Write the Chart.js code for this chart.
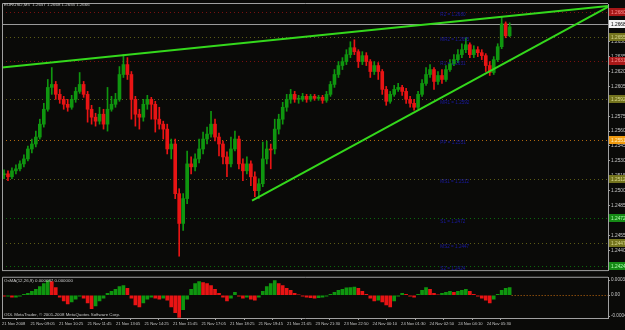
<!DOCTYPE html>
<html>
<head>
<meta charset="utf-8">
<script src="https://cdn.jsdelivr.net/npm/chart.js@4.4.1/dist/chart.umd.min.js"></script>
<style>
  html, body { margin: 0; padding: 0; background: #0a0a08; }
  #wrap { position: relative; width: 625px; height: 330px; overflow: hidden; background: #0a0a08; }
  #main { position: absolute; left: 0; top: 0; }
  #osma { position: absolute; left: 0; top: 274px; }
</style>
</head>
<body>
<div id="wrap">
  <canvas id="main" width="625" height="274"></canvas>
  <canvas id="osma" width="625" height="56"></canvas>
</div>
<script>
// EURUSD M5 candles, 21-24 Nov 2008
const opens = [
  1.2516,1.2517,1.2514,1.2520,1.2522,1.2527,1.2532,1.2542,1.2547,1.2554,
  1.2567,1.2582,1.2604,1.2607,1.2597,1.2592,1.2587,1.2584,1.2592,1.2600,
  1.2607,1.2597,1.2582,1.2574,1.2570,1.2577,1.2567,1.2582,1.2587,1.2592,
  1.2617,1.2627,1.2617,1.2592,1.2577,1.2574,1.2587,1.2592,1.2587,1.2572,
  1.2567,1.2562,1.2542,1.2547,1.2497,1.2467,1.2492,1.2527,1.2524,1.2532,
  1.2542,1.2552,1.2557,1.2567,1.2554,1.2547,1.2534,1.2527,1.2542,1.2552,
  1.2527,1.2520,1.2527,1.2514,1.2500,1.2507,1.2532,1.2542,1.2542,1.2562,
  1.2572,1.2584,1.2592,1.2597,1.2592,1.2592,1.2595,1.2592,1.2595,1.2593,
  1.2594,1.2591,1.2597,1.2607,1.2617,1.2626,1.2630,1.2637,1.2644,1.2640,
  1.2630,1.2636,1.2630,1.2620,1.2626,1.2620,1.2602,1.2590,1.2597,1.2602,
  1.2604,1.2600,1.2592,1.2588,1.2584,1.2597,1.2608,1.2617,1.2622,1.2610,
  1.2616,1.2612,1.2622,1.2628,1.2632,1.2637,1.2642,1.2647,1.2637,1.2642,
  1.2639,1.2636,1.2626,1.2619,1.2632,1.2645,1.2668,1.2656
];
const highs = [
  1.2521,1.2520,1.2523,1.2526,1.2530,1.2536,1.2545,1.2552,1.2560,1.2572,
  1.2588,1.2612,1.2624,1.2610,1.2602,1.2595,1.2592,1.2596,1.2604,1.2619,
  1.2610,1.2600,1.2586,1.2578,1.2584,1.2582,1.2604,1.2595,1.2598,1.2625,
  1.2637,1.2634,1.2620,1.2595,1.2582,1.2592,1.2596,1.2594,1.2590,1.2584,
  1.2570,1.2567,1.2552,1.2552,1.2502,1.2497,1.2540,1.2534,1.2537,1.2552,
  1.2559,1.2564,1.2580,1.2572,1.2558,1.2550,1.2539,1.2554,1.2560,1.2555,
  1.2532,1.2534,1.2530,1.2519,1.2512,1.2549,1.2550,1.2547,1.2572,1.2577,
  1.2589,1.2597,1.2602,1.2600,1.2596,1.2598,1.2597,1.2597,1.2597,1.2596,
  1.2596,1.2600,1.2610,1.2622,1.2630,1.2634,1.2642,1.2650,1.2652,1.2642,
  1.2640,1.2639,1.2632,1.2630,1.2629,1.2622,1.2605,1.2600,1.2606,1.2608,
  1.2606,1.2603,1.2595,1.2592,1.2600,1.2612,1.2624,1.2627,1.2624,1.2620,
  1.2622,1.2626,1.2632,1.2637,1.2642,1.2648,1.2654,1.2649,1.2646,1.2645,
  1.2642,1.2638,1.2630,1.2635,1.2648,1.2675,1.2670,1.2669
];
const lows = [
  1.2512,1.2510,1.2512,1.2517,1.2520,1.2524,1.2530,1.2538,1.2544,1.2552,
  1.2564,1.2580,1.2597,1.2592,1.2588,1.2582,1.2580,1.2582,1.2589,1.2598,
  1.2594,1.2569,1.2567,1.2565,1.2567,1.2562,1.2560,1.2580,1.2584,1.2590,
  1.2614,1.2612,1.2572,1.2565,1.2562,1.2570,1.2582,1.2572,1.2559,1.2562,
  1.2552,1.2537,1.2532,1.2492,1.2434,1.2460,1.2487,1.2517,1.2520,1.2528,
  1.2537,1.2547,1.2554,1.2550,1.2535,1.2527,1.2514,1.2524,1.2540,1.2522,
  1.2510,1.2517,1.2505,1.2494,1.2492,1.2504,1.2527,1.2522,1.2537,1.2557,
  1.2567,1.2580,1.2588,1.2589,1.2588,1.2590,1.2589,1.2590,1.2591,1.2591,
  1.2588,1.2589,1.2595,1.2604,1.2614,1.2622,1.2627,1.2634,1.2637,1.2624,
  1.2627,1.2626,1.2614,1.2617,1.2612,1.2597,1.2586,1.2588,1.2595,1.2600,
  1.2596,1.2588,1.2584,1.2581,1.2582,1.2595,1.2606,1.2614,1.2602,1.2607,
  1.2608,1.2610,1.2620,1.2626,1.2629,1.2634,1.2639,1.2634,1.2634,1.2635,
  1.2632,1.2620,1.2616,1.2617,1.2630,1.2643,1.2654,1.2655
];
const closes = [
  1.2517,1.2514,1.2520,1.2522,1.2527,1.2532,1.2542,1.2547,1.2554,1.2567,
  1.2582,1.2604,1.2607,1.2597,1.2592,1.2587,1.2584,1.2592,1.2600,1.2607,
  1.2597,1.2582,1.2574,1.2570,1.2577,1.2567,1.2582,1.2587,1.2592,1.2617,
  1.2627,1.2617,1.2592,1.2577,1.2574,1.2587,1.2592,1.2587,1.2572,1.2567,
  1.2562,1.2542,1.2547,1.2497,1.2467,1.2492,1.2527,1.2524,1.2532,1.2542,
  1.2552,1.2557,1.2567,1.2554,1.2547,1.2534,1.2527,1.2542,1.2552,1.2527,
  1.2520,1.2527,1.2514,1.2500,1.2507,1.2532,1.2542,1.2541,1.2562,1.2572,
  1.2584,1.2592,1.2597,1.2592,1.2593,1.2595,1.2592,1.2595,1.2593,1.2594,
  1.2591,1.2597,1.2607,1.2617,1.2626,1.2630,1.2637,1.2644,1.2640,1.2630,
  1.2636,1.2630,1.2620,1.2626,1.2620,1.2602,1.2590,1.2597,1.2602,1.2604,
  1.2600,1.2592,1.2588,1.2584,1.2597,1.2608,1.2617,1.2622,1.2610,1.2616,
  1.2612,1.2622,1.2628,1.2632,1.2637,1.2642,1.2647,1.2637,1.2642,1.2639,
  1.2636,1.2626,1.2619,1.2632,1.2645,1.2668,1.2656,1.2665
];

// OsMA(12,26,9) histogram, one value per candle
const osma = [
  -0.00002,-0.00002,-0.00004,-0.00004,-0.00002,0.00002,0.00004,0.00008,0.00012,0.00018,
  0.00024,0.00030,0.00028,0.00016,-0.00004,-0.00012,-0.00018,-0.00014,-0.00008,-0.00002,
  -0.00006,-0.00016,-0.00028,-0.00022,-0.00012,-0.00006,0.00004,0.00008,0.00012,0.00018,
  0.00020,0.00014,-0.00006,-0.00020,-0.00024,-0.00016,-0.00008,-0.00004,-0.00006,-0.00008,
  -0.00006,-0.00010,-0.00024,-0.00036,-0.00046,-0.00030,-0.00008,0.00012,0.00024,0.00028,
  0.00026,0.00024,0.00020,0.00012,0.00004,-0.00004,-0.00012,-0.00006,0.00006,-0.00002,
  -0.00006,-0.00004,-0.00008,-0.00010,-0.00004,0.00008,0.00018,0.00024,0.00030,0.00024,
  0.00020,0.00014,0.00010,0.00004,0.00001,-0.00002,-0.00004,-0.00005,-0.00006,-0.00005,
  -0.00004,-0.00002,0.00002,0.00006,0.00010,0.00012,0.00015,0.00016,0.00017,0.00014,
  0.00008,0.00002,-0.00006,-0.00012,-0.00010,-0.00014,-0.00020,-0.00024,-0.00012,-0.00002,
  0.00004,0.00002,-0.00002,-0.00004,0.00002,0.00010,0.00016,0.00012,0.00004,0.00001,
  0.00004,0.00006,0.00008,0.00006,0.00008,0.00010,0.00012,0.00008,0.00002,-0.00002,
  -0.00006,-0.00010,-0.00016,-0.00008,0.00002,0.00010,0.00014,0.00016
];

const priceTicks = [1.2425,1.2440,1.2455,1.2470,1.2485,1.2500,1.2515,1.2530,1.2545,
  1.2560,1.2575,1.2590,1.2605,1.2620,1.2635,1.2650,1.2665,1.2680];
const timeLabels = ['21 Nov 2008','21 Nov 09:05','21 Nov 10:25','21 Nov 11:45','21 Nov 13:05',
  '21 Nov 14:25','21 Nov 15:45','21 Nov 17:05','21 Nov 18:25','21 Nov 19:45','21 Nov 21:05',
  '23 Nov 21:30','23 Nov 22:50','24 Nov 00:10','24 Nov 01:30','24 Nov 02:50','24 Nov 04:10','24 Nov 05:30'];
const barsPerLabel = 7.16;

const pivotNames  = ['R2','MR2','R1','MR1','PP','MS1','S1','MS2','S2'];
const pivotValues = [1.2680,1.2655,1.2631,1.2592,1.2551,1.2512,1.2472,1.2447,1.2424];
const bidPrice = 1.2668;
const titleText = 'EURUSD,M5  1.2657 1.2668 1.2655 1.2666';

// trend lines: [bar index, price] pairs
const upperTrend = [{x: -0.5, y: 1.2624}, {x: 151.7, y: 1.2686}];
const lowerTrend = [{x: 62.3, y: 1.2490}, {x: 151.7, y: 1.2685}];

const osmaTicks = [0.00031, 0, -0.00043];
const osmaTickLabels = ['0.000351', '0.00', '-0.000458'];

const bg = '#0a0a08';
const fg = '#c8c8c8';
const frameColor = '#a0a0a0';
const upColor = '#0f960f';
const downColor = '#e81414';
const trendColor = '#34d81c';
const xMax = 151.7;
const fontFam = '"Liberation Sans", Arial, sans-serif';

function pivotKind(name) {
  if (name === 'PP') return 'pp';
  if (name.startsWith('M')) return 'mid';
  return name[0] === 'R' ? 'res' : 'sup';
}
const pivotStyle = {
  res: {line: '#7a1010', box: '#a81818', text: '#ff9090'},
  mid: {line: '#5c5c16', box: '#74741e', text: '#d8d890'},
  pp:  {line: '#b06810', box: '#f09a10', text: '#fff2c0'},
  sup: {line: '#0c6a0c', box: '#158a15', text: '#b0ffb0'}
};

const idx = closes.map((c, i) => i);
const candleColors = idx.map(i => closes[i] >= opens[i] ? upColor : downColor);
const osmaColors = idx.map(i => (i > 0 && osma[i] >= osma[i - 1]) ? upColor : downColor);

const mainDecor = {
  id: 'mainDecor',
  beforeDatasetsDraw(chart) {
    const {ctx, chartArea: a, scales: {y}} = chart;
    ctx.save();
    ctx.lineWidth = 1;
    ctx.setLineDash([1, 3]);
    pivotValues.forEach((v, k) => {
      const py = Math.round(y.getPixelForValue(v)) + 0.5;
      ctx.strokeStyle = pivotStyle[pivotKind(pivotNames[k])].line;
      ctx.beginPath(); ctx.moveTo(a.left, py); ctx.lineTo(a.right, py); ctx.stroke();
    });
    ctx.setLineDash([]);
    const by = Math.round(y.getPixelForValue(bidPrice)) + 0.5;
    ctx.strokeStyle = '#9a9a9a';
    ctx.beginPath(); ctx.moveTo(a.left, by); ctx.lineTo(a.right, by); ctx.stroke();
    ctx.restore();
  },
  afterDatasetsDraw(chart) {
    const {ctx, scales: {x, y}} = chart;
    ctx.save();
    ctx.font = '4.6px ' + fontFam;
    ctx.fillStyle = '#1a1aa0';
    ctx.textBaseline = 'middle';
    pivotValues.forEach((v, k) => {
      const py = y.getPixelForValue(v) + 3;
      ctx.fillText(pivotNames[k] + ' = ' + v.toFixed(4), x.getPixelForValue(109.6), py);
    });
    ctx.restore();
  },
  afterDraw(chart) {
    const {ctx, chartArea: a, scales: {y}} = chart;
    ctx.save();
    ctx.strokeStyle = frameColor;
    ctx.lineWidth = 1;
    ctx.beginPath();
    ctx.moveTo(a.left + 0.5, a.bottom + 0.5);
    ctx.lineTo(a.left + 0.5, a.top - 0.5);
    ctx.lineTo(a.right, a.top - 0.5);
    ctx.moveTo(a.left, a.bottom + 0.5);
    ctx.lineTo(a.right, a.bottom + 0.5);
    ctx.stroke();

    ctx.font = '4.4px ' + fontFam;
    ctx.fillStyle = fg;
    ctx.textBaseline = 'middle';
    ctx.fillText(titleText, 4, 5);

    // level boxes on the price scale
    const drawBox = (v, fill, txtColor, txt) => {
      const py = y.getPixelForValue(v);
      ctx.fillStyle = fill;
      ctx.fillRect(a.right + 1, Math.round(py) - 4, 16, 8);
      ctx.fillStyle = txtColor;
      ctx.fillText(txt, a.right + 3, py + 0.5);
    };
    ctx.font = '4.8px ' + fontFam;
    pivotValues.forEach((v, k) => {
      const st = pivotStyle[pivotKind(pivotNames[k])];
      drawBox(v, st.box, st.text, v.toFixed(4));
    });
    drawBox(bidPrice, '#f4f4f4', '#000000', bidPrice.toFixed(4));
    ctx.restore();
  }
};

new Chart(document.getElementById('main'), {
  type: 'bar',
  data: {
    datasets: [
      {type: 'line', label: 'upper', data: upperTrend, borderColor: trendColor, borderWidth: 2,
       pointRadius: 0, clip: false, order: 0},
      {type: 'line', label: 'lower', data: lowerTrend, borderColor: trendColor, borderWidth: 2,
       pointRadius: 0, clip: false, order: 0},
      {label: 'body', data: idx.map(i => ({x: i, y: [opens[i], closes[i]]})),
       backgroundColor: candleColors, barThickness: 3, minBarLength: 1, grouped: false, order: 1},
      {label: 'wick', data: idx.map(i => ({x: i, y: [lows[i], highs[i]]})),
       backgroundColor: candleColors, barThickness: 1, grouped: false, order: 2}
    ]
  },
  options: {
    responsive: false, animation: false, devicePixelRatio: 1,
    layout: {padding: {left: 2, top: 4, right: 0, bottom: 2}},
    plugins: {legend: {display: false}, tooltip: {enabled: false}},
    scales: {
      x: {type: 'linear', min: -0.5, max: xMax, offset: false, display: false},
      y: {
        position: 'right', min: 1.2420, max: 1.2688,
        afterFit: s => { s.width = 17; },
        afterBuildTicks: s => { s.ticks = priceTicks.map(v => ({value: v})); },
        ticks: {color: fg, font: {size: 4.8, family: fontFam}, padding: 1, autoSkip: false,
                callback: v => v.toFixed(4)},
        grid: {drawOnChartArea: false, drawTicks: true, tickLength: 2, color: frameColor},
        border: {color: frameColor}
      }
    }
  },
  plugins: [mainDecor]
});

const osmaDecor = {
  id: 'osmaDecor',
  afterDraw(chart) {
    const {ctx, chartArea: a, scales: {x, y}} = chart;
    ctx.save();
    ctx.strokeStyle = frameColor;
    ctx.lineWidth = 1;
    ctx.beginPath();
    ctx.moveTo(a.left + 0.5, a.bottom);
    ctx.lineTo(a.left + 0.5, a.top - 0.5);
    ctx.lineTo(a.right, a.top - 0.5);
    ctx.stroke();
    // zero level after the last bar
    const zy = Math.round(y.getPixelForValue(0)) + 0.5;
    ctx.strokeStyle = '#c06a10';
    ctx.setLineDash([1, 2]);
    ctx.beginPath();
    ctx.moveTo(x.getPixelForValue(idx.length - 0.5), zy);
    ctx.lineTo(a.right, zy);
    ctx.stroke();
    ctx.setLineDash([]);
    ctx.font = '4.4px ' + fontFam;
    ctx.fillStyle = fg;
    ctx.textBaseline = 'middle';
    ctx.fillText('OsMA(12,26,9) 0.000087 0.000000', 4, 7);
    ctx.fillText('ODL MetaTrader, \u00a9 2001-2008 MetaQuotes Software Corp.', 4, 41);
    ctx.restore();
  }
};

new Chart(document.getElementById('osma'), {
  type: 'bar',
  data: {
    datasets: [{label: 'OsMA', data: idx.map(i => ({x: i, y: osma[i]})),
                backgroundColor: osmaColors, barThickness: 3}]
  },
  options: {
    responsive: false, animation: false, devicePixelRatio: 1,
    layout: {padding: {left: 2, top: 3, right: 0, bottom: 0}},
    plugins: {legend: {display: false}, tooltip: {enabled: false}},
    scales: {
      x: {
        type: 'linear', min: -0.5, max: xMax, offset: false,
        afterFit: s => { s.height = 12; },
        afterBuildTicks: s => { s.ticks = timeLabels.map((t, k) => ({value: k * barsPerLabel - 0.5})); },
        ticks: {align: 'start', maxRotation: 0, autoSkip: false, color: fg, padding: 1,
                font: {size: 4.1, family: fontFam}, callback: (v, k) => timeLabels[k]},
        grid: {drawOnChartArea: false, tickLength: 2, color: frameColor},
        border: {color: frameColor}
      },
      y: {
        position: 'right', min: -0.00047, max: 0.00036,
        afterFit: s => { s.width = 17; },
        afterBuildTicks: s => { s.ticks = osmaTicks.map(v => ({value: v})); },
        ticks: {color: fg, font: {size: 4.6, family: fontFam}, padding: 1, autoSkip: false,
                callback: (v, k) => osmaTickLabels[k]},
        grid: {drawOnChartArea: false, tickLength: 2, color: frameColor},
        border: {color: frameColor}
      }
    }
  },
  plugins: [osmaDecor]
});
</script>
</body>
</html>
